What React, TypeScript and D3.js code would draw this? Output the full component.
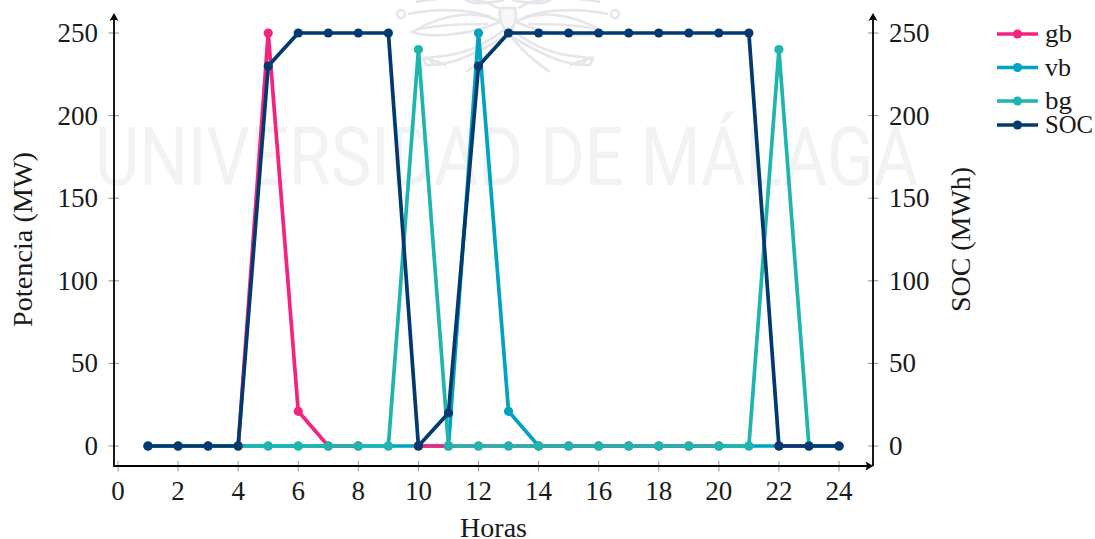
import React from "react";
import * as d3 from "d3";

const hours = d3.range(1, 25);
const gb: (number | null)[] = [0,0,0,0,250,21,0,0,null,0,0,0,0,0,0,0,0,0,0,0,null,0,0,0];
const vb: number[] = [0,0,0,0,0,0,0,0,0,0,0,250,21,0,0,0,0,0,0,0,0,0,0,0];
const bg: number[] = [0,0,0,0,0,0,0,0,0,240,0,0,0,0,0,0,0,0,0,0,0,240,0,0];
const soc: number[] = [0,0,0,0,230,250,250,250,250,0,20,230,250,250,250,250,250,250,250,250,250,0,0,0];
const xTicks = [0,2,4,6,8,10,12,14,16,18,20,22,24];
const yTicks = [0,50,100,150,200,250];
const seriesList = [
  { name: "vb", color: "#00A3C4", values: vb as (number | null)[] },
  { name: "gb", color: "#F42380", values: gb },
  { name: "bg", color: "#1DB5AD", values: bg as (number | null)[] },
  { name: "SOC", color: "#003A70", values: soc as (number | null)[] },
];
const legendItems = [
  { name: "gb", color: "#F42380", y: 34, ty: 42, w: 27 },
  { name: "vb", color: "#00A3C4", y: 67.5, ty: 76, w: 26 },
  { name: "bg", color: "#1DB5AD", y: 101, ty: 109, w: 27 },
  { name: "SOC", color: "#003A70", y: 125, ty: 133, w: 48 },
];

const W = 1095, H = 539;
const serif = "'Liberation Serif', serif";
const x = d3.scaleLinear().domain([0, 24]).range([118, 839]);
const y = d3.scaleLinear().domain([0, 250]).range([446, 33]);
const left = 114, right = 873, bottom = 466, top = 13;
const lineGen = d3.line<number | null>()
  .defined((d) => d !== null)
  .x((_, i) => x(hours[i]))
  .y((d) => y(d as number));

const logoCx = 508;
const logoHalf = [
  "M-8,22 C-30,8 -70,8 -100,14",
  "M-10,8 C-30,-4 -60,-4 -92,2",
  "M-8,22 C-30,10 -62,12 -96,32 C-78,38 -40,36 -8,22 Z",
  "M-92,30 C-70,24 -40,24 -20,24",
  "M-4,30 C-30,50 -50,56 -85,58 L-82,65 C-50,66 -25,48 -2,36",
  "M-85,58 C-75,60 -70,62 -62,65 M-78,60 L-74,65",
  "M-2,34 C-10,48 -25,60 -42,72",
  "M-4,0 C-22,4 -40,6 -46,-4",
];

export default function App() {
  return (
    <svg width={W} height={H} viewBox={`0 0 ${W} ${H}`} style={{ position: "absolute", top: 0, left: 0, background: "#fff" }}>
      <g fill="none" stroke="#E4E6EA" strokeWidth={2.6}>
        <g transform={`translate(${logoCx},0)`}>
          {logoHalf.map((d, i) => <path key={i} d={d} />)}
          <circle cx={-107} cy={14} r={4} />
        </g>
        <g transform={`translate(${logoCx},0) scale(-1,1)`}>
          {logoHalf.map((d, i) => <path key={i} d={d} />)}
          <circle cx={-107} cy={14} r={4} />
        </g>
        <path d={`M${logoCx - 8},8 C${logoCx - 10},22 ${logoCx - 4},28 ${logoCx},34 C${logoCx + 6},28 ${logoCx + 10},20 ${logoCx + 7},8 Z`} fill="#F6F7F8" />
      </g>
      <text x={95} y={185} textLength={823} lengthAdjust="spacingAndGlyphs" fontFamily="Roboto, 'Liberation Sans', sans-serif" fontWeight={400} fontSize={81} fill="#F1F2F3">UNIVERSIDAD DE MÁLAGA</text>

      {seriesList.map((s) => (
        <g key={s.name}>
          <path d={lineGen(s.values) ?? ""} fill="none" stroke={s.color} strokeWidth={3.7} strokeLinejoin="round" />
          {s.values.map((v, i) => v === null ? null : (
            <circle key={i} cx={x(hours[i])} cy={y(v)} r={4.6} fill={s.color} />
          ))}
        </g>
      ))}

      <g stroke="#777" strokeWidth={0.8}>
        {yTicks.map((t) => (
          <g key={t}>
            <line x1={left - 5.5} x2={left + 5} y1={y(t)} y2={y(t)} />
            <line x1={right - 5} x2={right + 5.5} y1={y(t)} y2={y(t)} />
          </g>
        ))}
        {xTicks.map((t) => <line key={t} x1={x(t)} x2={x(t)} y1={bottom - 5} y2={bottom + 5.5} />)}
      </g>
      <g stroke="#000" strokeWidth={1.8} fill="none">
        <path d={`M${left},${top + 3} V${bottom} H${right - 3}`} />
        <path d={`M${right},${top + 3} V${bottom}`} />
      </g>
      <g fill="#000">
        <path d={`M${left},${top} L${left + 4.5},${top + 8} Q${left},${top + 5.5} ${left - 4.5},${top + 8} Z`} />
        <path d={`M${right},${top} L${right + 4.5},${top + 8} Q${right},${top + 5.5} ${right - 4.5},${top + 8} Z`} />
        <path d={`M${right + 0.5},${bottom} L${right - 7.5},${bottom - 4.5} Q${right - 5},${bottom} ${right - 7.5},${bottom + 4.5} Z`} />
      </g>

      <g fontFamily={serif} fontSize={27} fill="#1a1a1a">
        {yTicks.map((t) => (
          <g key={t}>
            <text x={98} y={y(t) + 9} textAnchor="end">{t}</text>
            <text x={889} y={y(t) + 9}>{t}</text>
          </g>
        ))}
        {xTicks.map((t) => <text key={t} x={x(t)} y={500} textAnchor="middle">{t}</text>)}
        <text x={493.5} y={537} fontSize={27} textAnchor="middle" textLength={67} lengthAdjust="spacingAndGlyphs">Horas</text>
        <text transform="translate(32,239.5) rotate(-90)" fontSize={27} textAnchor="middle" textLength={175} lengthAdjust="spacingAndGlyphs">Potencia (MW)</text>
        <text transform="translate(970,239.5) rotate(-90)" fontSize={27} textAnchor="middle" textLength={145} lengthAdjust="spacingAndGlyphs">SOC (MWh)</text>
      </g>

      {legendItems.map((l) => (
        <g key={l.name}>
          <line x1={997} x2={1038} y1={l.y} y2={l.y} stroke={l.color} strokeWidth={3.7} />
          <circle cx={1017.5} cy={l.y} r={4.6} fill={l.color} />
          <text x={1045} y={l.ty} fontFamily={serif} fontSize={26} fill="#1a1a1a" textLength={l.w} lengthAdjust="spacingAndGlyphs">{l.name}</text>
        </g>
      ))}
    </svg>
  );
}
